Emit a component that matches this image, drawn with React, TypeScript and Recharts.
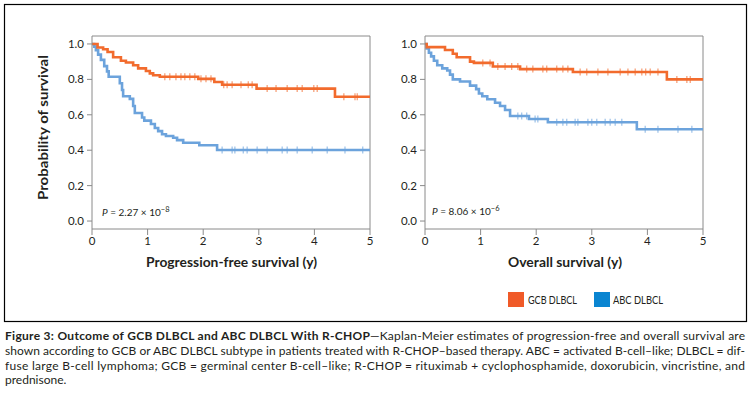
import React from 'react';
import { ComposedChart, Line, Scatter, XAxis, YAxis, ReferenceLine } from 'recharts';

const FONT = "Lato, 'Open Sans', sans-serif";
const TEXT = '#231f20';
const AXIS = '#8a8a8a';
const ORANGE = '#F26B2D';
const BLUE = '#6CA3DC';
const ORANGE_KEY = '#F05A28';
const BLUE_KEY = '#0A85D1';

const xTicks = [0, 1, 2, 3, 4, 5];
const yTicks = [0, 0.2, 0.4, 0.6, 0.8, 1.0];
const xMax = 5;

// Progression-free survival
const gcbPfsTime = [0, 0.1, 0.2, 0.28, 0.38, 0.52, 0.61, 0.74, 0.83, 0.97, 1.04, 1.1, 1.22, 1.91, 2.2, 2.34, 2.96, 4.37];
const gcbPfsSurv = [1.0, 0.98, 0.97, 0.955, 0.925, 0.905, 0.895, 0.88, 0.862, 0.847, 0.834, 0.823, 0.815, 0.803, 0.785, 0.77, 0.748, 0.702];
const gcbPfsCensor = [1.31, 1.4, 1.51, 1.6, 1.67, 1.76, 1.85, 1.96, 2.05, 2.14, 2.37, 2.43, 2.52, 2.68, 2.81, 2.88, 3.15, 3.31, 3.51, 3.69, 3.78, 3.99, 4.05, 4.53, 4.73, 4.77];

const abcPfsTime = [0, 0.04, 0.07, 0.11, 0.16, 0.22, 0.27, 0.3, 0.5, 0.54, 0.56, 0.68, 0.74, 0.77, 0.9, 0.94, 1.06, 1.13, 1.19, 1.26, 1.33, 1.46, 1.53, 1.64, 1.93, 2.25];
const abcPfsSurv = [1.0, 0.985, 0.965, 0.94, 0.91, 0.875, 0.845, 0.815, 0.778, 0.74, 0.705, 0.69, 0.65, 0.61, 0.585, 0.567, 0.548, 0.525, 0.508, 0.49, 0.48, 0.47, 0.457, 0.442, 0.428, 0.401];
const abcPfsCensor = [2.34, 2.52, 2.57, 2.72, 2.79, 2.97, 3.15, 3.42, 3.51, 3.69, 3.96, 4.23, 4.55, 4.87];

// Overall survival
const gcbOsTime = [0, 0.03, 0.36, 0.5, 0.57, 0.81, 0.88, 1.22, 1.71, 2.66, 4.35];
const gcbOsSurv = [1.0, 0.982, 0.966, 0.945, 0.925, 0.9, 0.893, 0.873, 0.858, 0.842, 0.8];
const gcbOsCensor = [1.04, 1.17, 1.31, 1.44, 1.56, 1.67, 1.83, 1.94, 2.12, 2.19, 2.37, 2.48, 2.57, 2.79, 2.91, 3.11, 3.29, 3.51, 3.65, 3.78, 3.9, 3.97, 4.05, 4.19, 4.53, 4.71, 4.77];

const abcOsTime = [0, 0.03, 0.07, 0.11, 0.16, 0.22, 0.31, 0.4, 0.45, 0.5, 0.63, 0.81, 0.92, 0.97, 1.03, 1.12, 1.26, 1.35, 1.44, 1.53, 1.87, 2.21, 3.81];
const abcOsSurv = [1.0, 0.975, 0.95, 0.93, 0.905, 0.88, 0.862, 0.85, 0.827, 0.8, 0.788, 0.765, 0.745, 0.72, 0.705, 0.688, 0.668, 0.65, 0.627, 0.593, 0.576, 0.558, 0.518];
const abcOsCensor = [1.67, 1.74, 1.83, 1.98, 2.03, 2.37, 2.48, 2.55, 2.7, 2.75, 2.93, 3.0, 3.09, 3.24, 3.33, 3.42, 3.54, 3.96, 4.19, 4.55, 4.8];

type Pt = { t: number; s: number };

function stepPoints(times: number[], surv: number[]): Pt[] {
  const pts = times.map((t, i) => ({ t, s: surv[i] }));
  pts.push({ t: xMax, s: surv[surv.length - 1] });
  return pts;
}

function censorPoints(times: number[], surv: number[], censor: number[]): Pt[] {
  return censor.map((c) => {
    let s = surv[0];
    for (let i = 0; i < times.length; i++) if (times[i] <= c) s = surv[i];
    return { t: c, s };
  });
}

const tickMark = (color: string) => (props: any) => {
  const { cx, cy } = props;
  if (cx == null || cy == null) return <g />;
  return <line x1={cx} x2={cx} y1={cy - 3.5} y2={cy + 3.5} stroke={color} strokeWidth={1.1} strokeOpacity={0.75} />;
};

type PanelProps = {
  left: number;
  marginLeft: number;
  marginRight: number;
  gcb: [number[], number[], number[]];
  abc: [number[], number[], number[]];
};

function Panel({ left, marginLeft, marginRight, gcb, abc }: PanelProps) {
  const tickStyle = { fill: TEXT, fontSize: 11.5, fontFamily: FONT };
  return (
    <div style={{ position: 'absolute', left, top: 0 }}>
      <ComposedChart width={375} height={320} margin={{ top: 36, right: marginRight, bottom: 61, left: marginLeft }}>
        <XAxis
          type="number"
          dataKey="t"
          domain={[0, xMax]}
          ticks={xTicks}
          interval={0}
          allowDataOverflow
          height={30}
          stroke={AXIS}
          tickSize={6}
          tickMargin={2}
          tick={tickStyle}
        />
        <YAxis
          type="number"
          dataKey="s"
          domain={[-0.045, 1.045]}
          ticks={yTicks}
          interval={0}
          allowDataOverflow
          width={40}
          stroke={AXIS}
          tickSize={5}
          tickMargin={3}
          tick={tickStyle}
          tickFormatter={(v: number) => v.toFixed(1)}
        />
        <ReferenceLine y={1.045} stroke={AXIS} strokeWidth={1} />
        <ReferenceLine x={xMax} stroke={AXIS} strokeWidth={1} />
        <Line data={stepPoints(abc[0], abc[1])} dataKey="s" type="stepAfter" stroke={BLUE} strokeWidth={2.6} dot={false} isAnimationActive={false} />
        <Line data={stepPoints(gcb[0], gcb[1])} dataKey="s" type="stepAfter" stroke={ORANGE} strokeWidth={2.6} dot={false} isAnimationActive={false} />
        <Scatter data={censorPoints(abc[0], abc[1], abc[2])} dataKey="s" shape={tickMark(BLUE)} isAnimationActive={false} />
        <Scatter data={censorPoints(gcb[0], gcb[1], gcb[2])} dataKey="s" shape={tickMark(ORANGE)} isAnimationActive={false} />
      </ComposedChart>
    </div>
  );
}

export default function App() {
  return (
    <div style={{ position: 'absolute', left: 0, top: 0, width: 750, height: 394, background: '#fff', fontFamily: FONT }}>
      <Panel left={0} marginLeft={52} marginRight={5} gcb={[gcbPfsTime, gcbPfsSurv, gcbPfsCensor]} abc={[abcPfsTime, abcPfsSurv, abcPfsCensor]} />
      <Panel left={375} marginLeft={10} marginRight={47} gcb={[gcbOsTime, gcbOsSurv, gcbOsCensor]} abc={[abcOsTime, abcOsSurv, abcOsCensor]} />
      <svg width={750} height={394} style={{ position: 'absolute', left: 0, top: 0, pointerEvents: 'none' }} fontFamily={FONT}>
        <rect x={4.5} y={4.5} width={742} height={317} fill="none" stroke="#000" strokeWidth={1.2} />
        <text transform="translate(48,127.5) rotate(-90)" textAnchor="middle" fontSize={13} fontWeight="bold" fill={TEXT} textLength={145} lengthAdjust="spacingAndGlyphs">
          Probability of survival
        </text>
        <text x={146} y={267} fontSize={13} fontWeight="bold" fill={TEXT} textLength={171} lengthAdjust="spacingAndGlyphs">
          Progression-free survival (y)
        </text>
        <text x={508} y={267} fontSize={13} fontWeight="bold" fill={TEXT} textLength={114} lengthAdjust="spacingAndGlyphs">
          Overall survival (y)
        </text>
        <text x={102} y={215.5} fontSize={10} fill={TEXT}>
          <tspan fontStyle="italic">P</tspan>
          <tspan> = 2.27 × 10</tspan>
          <tspan dy={-4} fontSize={7.5}>−8</tspan>
        </text>
        <text x={432} y={215} fontSize={10} fill={TEXT}>
          <tspan fontStyle="italic">P</tspan>
          <tspan> = 8.06 × 10</tspan>
          <tspan dy={-4} fontSize={7.5}>−6</tspan>
        </text>
        <rect x={508} y={292} width={16} height={15} fill={ORANGE_KEY} />
        <text x={528} y={303.5} fontSize={11.5} fill={TEXT} textLength={49} lengthAdjust="spacingAndGlyphs">GCB DLBCL</text>
        <rect x={594} y={292} width={16} height={15} fill={BLUE_KEY} />
        <text x={613} y={303.5} fontSize={11.5} fill={TEXT} textLength={50} lengthAdjust="spacingAndGlyphs">ABC DLBCL</text>
        <text x={5} y={340} fontSize={12} fontWeight="bold" fill={TEXT} textLength={365} lengthAdjust="spacing">
          Figure 3: Outcome of GCB DLBCL and ABC DLBCL With R-CHOP
        </text>
        <text x={370} y={340} fontSize={12} fill={TEXT} textLength={375} lengthAdjust="spacing">
          —Kaplan-Meier estimates of progression-free and overall survival are
        </text>
        <text x={5} y={354.8} fontSize={12} fill={TEXT} textLength={740} lengthAdjust="spacing">
          shown according to GCB or ABC DLBCL subtype in patients treated with R-CHOP–based therapy. ABC = activated B-cell–like; DLBCL = dif-
        </text>
        <text x={5} y={369.6} fontSize={12} fill={TEXT} textLength={740} lengthAdjust="spacing">
          fuse large B-cell lymphoma; GCB = germinal center B-cell–like; R-CHOP = rituximab + cyclophosphamide, doxorubicin, vincristine, and
        </text>
        <text x={5} y={384.4} fontSize={12} fill={TEXT}>
          prednisone.
        </text>
      </svg>
    </div>
  );
}
